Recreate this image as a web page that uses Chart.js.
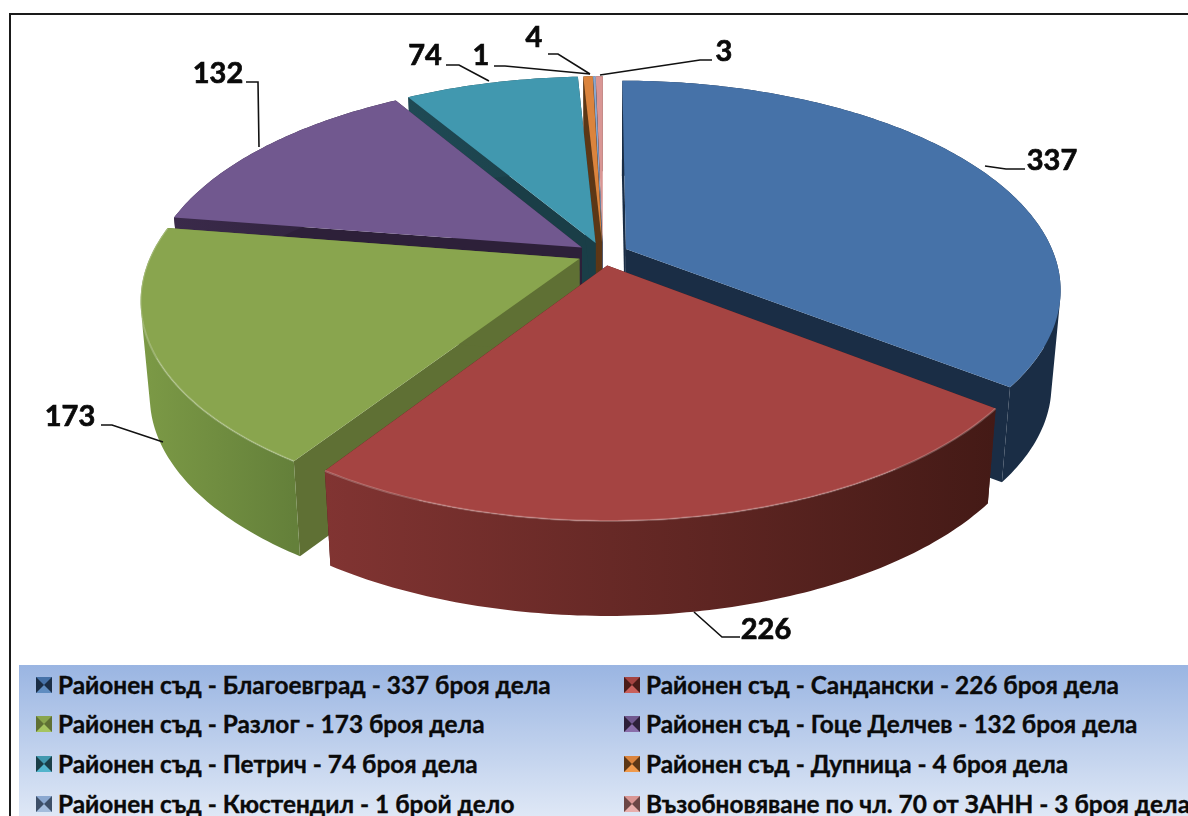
<!DOCTYPE html>
<html lang="bg"><head><meta charset="utf-8">
<script src="https://cdn.jsdelivr.net/npm/chart.js@4"></script>
<style>
html,body{margin:0;padding:0;background:#fff;overflow:hidden;width:1188px;height:816px}
#frame{position:absolute;left:9px;top:13px;width:1300px;height:900px;border:2px solid #1a1a1a;box-sizing:border-box}
canvas{position:absolute;left:0;top:0}
#legend{position:absolute;left:19px;top:665px;width:1300px;height:190px;background:linear-gradient(#9ab5e2,#dfe8f6 80%);font:bold 24.4px Lato,"Open Sans",sans-serif;color:#0a0a0a;-webkit-text-stroke:0.35px #0a0a0a}
.it{position:absolute;white-space:nowrap;line-height:28px}
.mk{position:absolute;width:0;height:0;border-style:solid;border-width:8px}
</style></head><body>
<div id="frame"></div>
<canvas id="c" width="1188" height="816"></canvas>
<div id="legend"></div>
<script>
const categories=["Районен съд - Благоевград - 337 броя дела","Районен съд - Сандански - 226 броя дела","Районен съд - Разлог - 173 броя дела","Районен съд - Гоце Делчев - 132 броя дела","Районен съд - Петрич - 74 броя дела","Районен съд - Дупница - 4 броя дела","Районен съд - Кюстендил - 1 брой дело","Възобновяване по чл. 70 от ЗАНН - 3 броя дела"];
const values=[337,226,173,132,74,4,1,3];
const topColors=["#4672a8","#a54442","#89a54e","#71588f","#4198af","#db843d","#8ba8d0","#d99694"];
const sideColors=["#1a2d45","#4a1b18","#5f7034","#2d2039","#1a3e47","#5c3716","#3d4f68","#6b4645"];
const rimLeft=["#1a2d45","#813432","#7c9a46","#3a2a4a","#1f4a55","#5c3716","#3d4f68","#6b4645"];
const rimRight=["#1a2d45","#441a16","#64803a","#2d2039","#1a3e47","#5c3716","#3d4f68","#6b4645"];
const markerLight=["#5f8cc0","#c9605c","#a5c460","#8a6eaa","#52b4cc","#f09a4c","#a4bcdc","#e8aeac"];

// pie perspective
const CX=603,CY=254,RX=428,RY=202,K=0.19,EXPLODE_X=0.06,EXPLODE_Y=0.057,DEPTH=95,BASE=0.98;
const drawOrder=[7,6,5,4,3,0,2,1];
// label text anchor + leader polyline, in slice order
const labelLayout=[
 {t:[1052,161],l:[[1025,169],[1006,169],[985,166]]},
 {t:[766,630],l:[[740,637],[722,637],[694,612]]},
 {t:[70,417],l:[[101,425],[112,425],[163,442]]},
 {t:[218,74],l:[[246,82],[258,82],[259,147]]},
 {t:[425,56],l:[[446,65],[459,65],[489,81]]},
 {t:[534,38],l:[[548,54],[558,54],[590,74]]},
 {t:[481,56],l:[[494,66],[505,66],[590,74]]},
 {t:[724,52],l:[[712,60],[700,60],[600,75]]}];

function pt(a,r,ex,ey,low){
  const U=r*Math.cos(a)+ex,V=r*Math.sin(a)+ey,w=1-K*V;
  let x=CX+RX*U/w,y=CY+RY*V/w;
  if(low){x=CX+(x-CX)*BASE;y+=DEPTH;}
  return [x,y];
}
function arcPts(s,e,ex,ey,low){
  const n=Math.max(2,Math.ceil((e-s)/0.015)),o=[];
  for(let i=0;i<=n;i++)o.push(pt(s+(e-s)*i/n,1,ex,ey,low));
  return o;
}
function addPoly(ctx,p){p.forEach((q,i)=>i?ctx.lineTo(q[0],q[1]):ctx.moveTo(q[0],q[1]));ctx.closePath();}
function poly(ctx,p,fill){ctx.beginPath();addPoly(ctx,p);ctx.fillStyle=fill;ctx.fill();}
function area(p){let a=0;p.forEach((q,i)=>{const n=p[(i+1)%p.length];a+=q[0]*n[1]-n[0]*q[1];});return a;}
const pie3d={id:'pie3d',
  beforeDatasetDraw(chart,args){
    const ctx=chart.ctx,arcs=chart.getDatasetMeta(args.index).data;
    drawOrder.forEach(i=>{
      const s=arcs[i].startAngle,e=arcs[i].endAngle,m=(s+e)/2;
      const ex=EXPLODE_X*Math.cos(m),ey=EXPLODE_Y*Math.sin(m);
      const cT=pt(0,0,ex,ey,false),cB=pt(0,0,ex,ey,true);
      const top=arcPts(s,e,ex,ey,false),bot=arcPts(s,e,ex,ey,true);
      // radial walls
      [[top[0],bot[0]],[top[top.length-1],bot[bot.length-1]]].forEach(w=>poly(ctx,[cT,w[0],w[1],cB],sideColors[i]));
      // outer rim: one path of same-wound quads, so the silhouette stays closed without seams
      const xs=top.map(q=>q[0]),g=ctx.createLinearGradient(Math.min(...xs),0,Math.max(...xs),0);
      g.addColorStop(0,rimLeft[i]);g.addColorStop(1,rimRight[i]);
      ctx.beginPath();
      for(let j=0;j<top.length-1;j++){
        let q=[top[j],top[j+1],bot[j+1],bot[j]];
        if(area(q)<0)q=q.reverse();
        addPoly(ctx,q);
      }
      ctx.fillStyle=g;ctx.fill('nonzero');
      // top face
      poly(ctx,[cT].concat(top),topColors[i]);
      // bevel along the front of the top face
      if(i===1||i===2){
        ctx.beginPath();top.forEach((q,j)=>j?ctx.lineTo(q[0],q[1]):ctx.moveTo(q[0],q[1]));
        ctx.strokeStyle='rgba(255,255,255,0.22)';ctx.lineWidth=2;ctx.stroke();
      }
    });
    return false;
  },
  afterDatasetsDraw(chart){
    const ctx=chart.ctx;
    ctx.font='bold 29px Lato,"Open Sans",sans-serif';ctx.textAlign='center';ctx.textBaseline='middle';
    values.forEach((v,i)=>{
      const L=labelLayout[i];
      ctx.beginPath();L.l.forEach((q,j)=>j?ctx.lineTo(q[0],q[1]):ctx.moveTo(q[0],q[1]));
      ctx.strokeStyle='#111';ctx.lineWidth=1.6;ctx.stroke();
      ctx.fillStyle='#0a0a0a';ctx.fillText(String(v),L.t[0],L.t[1]);
      ctx.strokeStyle='#0a0a0a';ctx.lineWidth=0.7;ctx.strokeText(String(v),L.t[0],L.t[1]);
    });
  }};
new Chart(document.getElementById('c'),{type:'pie',
  data:{labels:categories,datasets:[{data:values,backgroundColor:topColors,borderWidth:0}]},
  options:{responsive:false,animation:false,events:[],plugins:{legend:{display:false},tooltip:{enabled:false}}},
  plugins:[pie3d]});
const lg=document.getElementById('legend');
categories.forEach((c,i)=>{
  const col=i%2,row=(i-col)/2,x=col?605:17,y=[12,51,91,131][row];
  const m=document.createElement('div');m.className='mk';m.style.left=x+'px';m.style.top=y+'px';
  m.style.borderColor=`${topColors[i]} ${sideColors[i]} ${markerLight[i]} ${sideColors[i]}`;
  lg.appendChild(m);
  const t=document.createElement('div');t.className='it';t.textContent=c;t.style.left=(x+22)+'px';t.style.top=(y-6)+'px';lg.appendChild(t);
});
</script></body></html>
